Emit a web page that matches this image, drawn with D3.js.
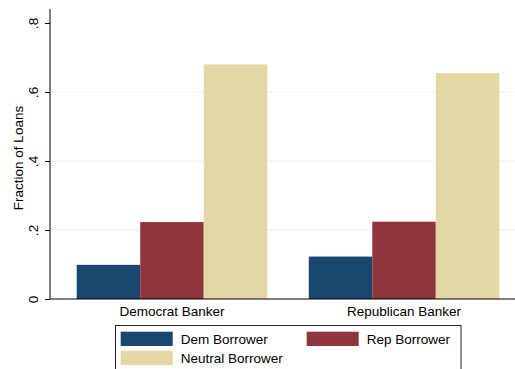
<!DOCTYPE html>
<html>
<head>
<meta charset="utf-8">
<script src="https://cdn.jsdelivr.net/npm/d3@7"></script>
<style>
  html, body { margin: 0; padding: 0; background: #fff; }
  svg { display: block; font-family: "Liberation Sans", Arial, sans-serif; }
</style>
</head>
<body>
<svg id="chart" width="515" height="369"></svg>
<script>
// Loan shares by banker party and borrower party
const categories = ["Democrat Banker", "Republican Banker"];
const seriesNames = ["Dem Borrower", "Rep Borrower", "Neutral Borrower"];
const demBorrower = [0.099, 0.123];
const repBorrower = [0.223, 0.224];
const neutralBorrower = [0.680, 0.655];
const yTicks = [0, 0.2, 0.4, 0.6, 0.8];
const yTickLabels = ["0", ".2", ".4", ".6", ".8"];
const colors = ["#1a476f", "#90353b", "#e3d8a5"];

const seriesValues = [demBorrower, repBorrower, neutralBorrower];
const rows = categories.map((c, i) => ({
  category: c,
  values: seriesNames.map((s, j) => ({ series: s, value: seriesValues[j][i], color: colors[j] }))
}));

const svg = d3.select("#chart");
const W = 515, H = 369;
const plot = { left: 50, right: 526, top: 9, bottom: 299 };

const y = d3.scaleLinear().domain([0, 0.8]).range([299, 23]);
const x0 = d3.scaleBand().domain(categories).range([plot.left, plot.right])
  .paddingInner(0.179).paddingOuter(0.115);
const x1 = d3.scaleBand().domain(seriesNames).range([0, x0.bandwidth()]).padding(0);

// horizontal gridlines (inner ticks only)
svg.append("g")
  .selectAll("line")
  .data(yTicks.filter(t => t > 0 && t < 0.8))
  .join("line")
  .attr("x1", plot.left).attr("x2", W)
  .attr("y1", d => y(d)).attr("y2", d => y(d))
  .attr("stroke", "#eaf2f3").attr("stroke-width", 1.2);

// bars
const groups = svg.append("g").selectAll("g")
  .data(rows).join("g")
  .attr("transform", d => `translate(${x0(d.category)},0)`);
groups.selectAll("rect")
  .data(d => d.values).join("rect")
  .attr("x", d => x1(d.series))
  .attr("width", x1.bandwidth())
  .attr("y", d => y(d.value))
  .attr("height", d => y(0) - y(d.value))
  .attr("fill", d => d.color);

// y axis
const yAxis = d3.axisLeft(y).tickValues(yTicks).tickFormat((d, i) => yTickLabels[i]).tickSize(5).tickPadding(4);
const gy = svg.append("g").attr("transform", `translate(${plot.left},0)`).call(yAxis);
gy.select(".domain").remove();
gy.selectAll(".tick line").attr("stroke", "#000");
gy.selectAll(".tick text")
  .attr("font-size", 13.5).attr("fill", "#000")
  .attr("text-anchor", "middle")
  .attr("x", null).attr("dy", null)
  .attr("transform", "translate(-12,0) rotate(-90)");
svg.append("line")
  .attr("x1", plot.left).attr("x2", plot.left)
  .attr("y1", plot.top).attr("y2", plot.bottom)
  .attr("stroke", "#000").attr("stroke-width", 1);

// x axis
svg.append("line")
  .attr("x1", plot.left).attr("x2", W)
  .attr("y1", plot.bottom).attr("y2", plot.bottom)
  .attr("stroke", "#000").attr("stroke-width", 1);
svg.append("g").selectAll("text")
  .data(categories).join("text")
  .attr("x", d => x0(d) + x0.bandwidth() / 2)
  .attr("y", 315.5)
  .attr("text-anchor", "middle")
  .attr("font-size", 13.5)
  .text(d => d);

// y title
svg.append("text")
  .attr("transform", `translate(22.5,${(y(0) + y(0.8)) / 2 - 3}) rotate(-90)`)
  .attr("text-anchor", "middle")
  .attr("font-size", 13.5)
  .text("Fraction of Loans");

// legend
const legend = svg.append("g");
legend.append("rect")
  .attr("x", 115.5).attr("y", 325.5)
  .attr("width", 345.5).attr("height", 60)
  .attr("fill", "#fff").attr("stroke", "#222").attr("stroke-width", 1);
const legendPos = [
  { kx: 120.7, ky: 331.7 },
  { kx: 306.7, ky: 331.7 },
  { kx: 120.7, ky: 350.7 }
];
seriesNames.forEach((s, i) => {
  const p = legendPos[i];
  legend.append("rect")
    .attr("x", p.kx).attr("y", p.ky)
    .attr("width", 52).attr("height", 14.3)
    .attr("fill", colors[i]);
  legend.append("text")
    .attr("x", p.kx + 60).attr("y", p.ky + 12.5)
    .attr("font-size", 13.5)
    .text(s);
});
</script>
</body>
</html>
